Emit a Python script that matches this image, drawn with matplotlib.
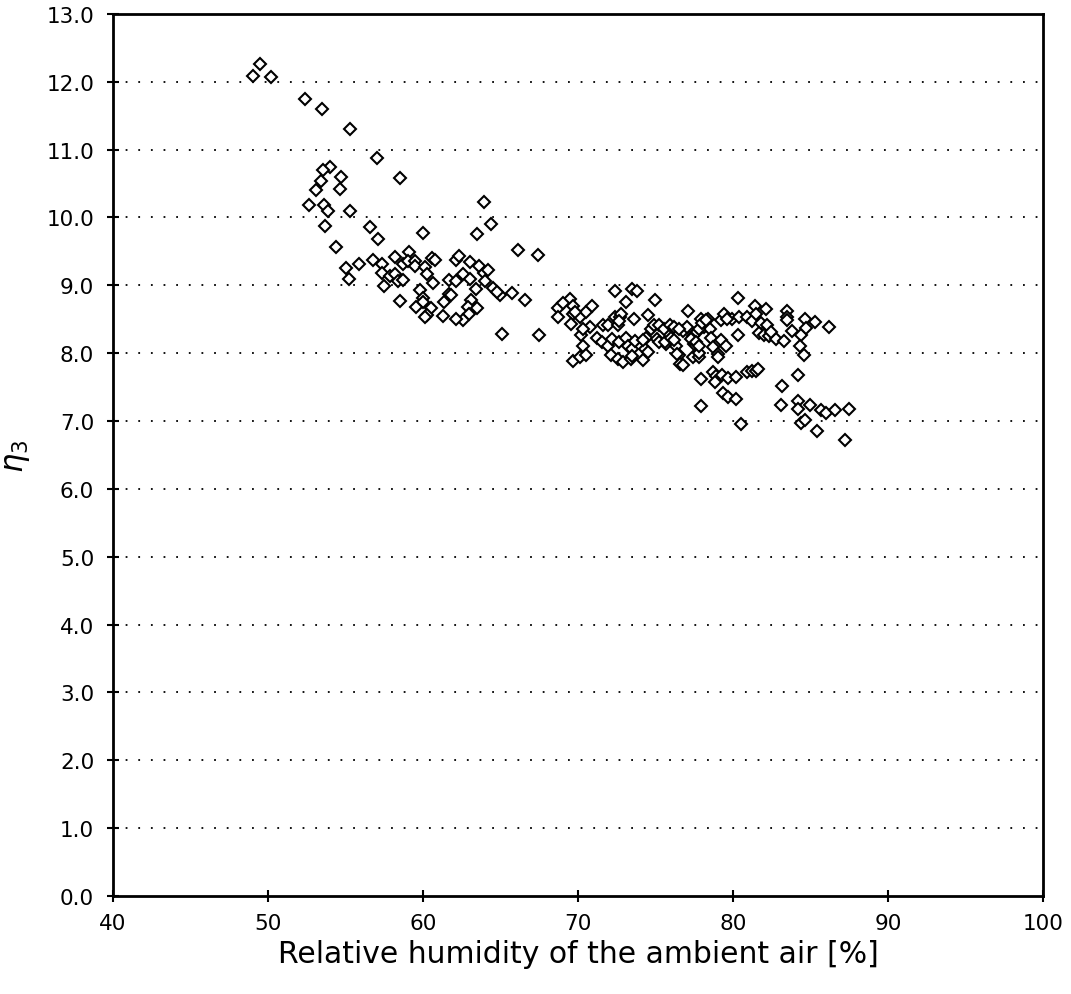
import matplotlib
matplotlib.use("Agg")
import matplotlib.pyplot as plt

# relative humidity [%] and eta_3
humidity = [
    49.0, 49.5, 50.2, 52.4, 53.5, 55.3, 57.05, 58.5, 54.0, 53.55, 54.7, 53.4, 53.1, 54.65,
    52.65, 53.6, 53.9, 55.3, 63.9, 64.4, 53.7, 56.6, 57.1, 60.0, 63.5, 54.4, 66.1, 67.4,
    55.0, 55.2, 55.9, 56.8, 57.35, 57.35, 57.9, 58.2, 58.2, 57.5, 58.4, 58.7, 58.7, 59.1,
    59.0, 59.5, 59.5, 60.1, 60.25, 60.65, 60.6, 60.75, 59.8, 60.0, 60.0, 58.5, 59.55, 60.5,
    60.25, 60.1, 61.3, 61.35, 61.65, 62.1, 61.65, 61.8, 62.1, 62.3, 62.55, 63.05, 63.0, 63.6,
    63.9, 64.2, 64.0, 63.4, 63.1, 62.9, 63.5, 62.95, 62.6, 62.1, 64.5, 64.95, 64.75, 65.75,
    66.6, 65.1, 67.5, 68.7, 68.7,
    72.4, 73.5, 73.8, 73.1, 74.95, 77.1, 80.3, 81.4, 82.1, 83.45, 83.5, 83.5, 80.3, 69.5,
    69.0, 69.65, 69.7, 69.55, 70.1, 70.5, 70.9, 70.8, 70.2, 70.3, 70.3, 69.7, 70.15, 70.5,
    71.2, 71.55, 71.6, 71.95, 72.35, 72.7, 72.55, 72.8, 71.9, 72.1, 72.55, 72.9, 72.2, 72.65,
    73.1, 73.2, 73.5, 73.4, 73.6, 73.7, 74.2, 74.3, 74.5, 74.35, 74.5, 74.7, 74.9, 75.1,
    75.25, 75.55, 75.7, 75.95, 76.2, 76.3, 76.5, 76.6, 76.8, 76.75, 77.05, 77.4, 77.5, 77.4,
    77.8, 77.65, 77.9, 78.1, 78.4, 78.5, 78.6, 78.7, 77.9, 77.9, 78.7, 78.9, 78.85, 79.05,
    79.0, 79.2, 79.55, 79.3, 79.7, 80.2, 79.35, 79.7, 80.2, 80.5, 79.2, 79.4, 79.95, 80.4,
    80.9, 81.25, 81.8, 82.2, 81.7, 82.0, 82.3, 82.75, 83.3, 80.9, 81.25, 81.5, 81.6, 83.15,
    83.1, 83.8, 84.65, 85.3, 84.4, 84.7, 84.3, 84.6, 84.2, 84.2, 84.2, 84.95, 84.4, 84.65,
    85.4, 86.2, 85.7, 86.0, 86.55, 87.45, 87.2,
    72.65, 69.8, 73.5, 74.2, 75.25, 75.6, 76.0, 76.2, 76.5, 76.4, 77.3, 77.8, 78.0, 78.25,
    77.8, 77.6, 77.8, 79.6, 81.45, 82.45,
]
eta3 = [
    12.08, 12.26, 12.07, 11.74, 11.60, 11.31, 10.88, 10.58, 10.75, 10.70, 10.59, 10.54, 10.40, 10.42,
    10.18, 10.19, 10.09, 10.09, 10.23, 9.90, 9.88, 9.86, 9.69, 9.77, 9.75, 9.56, 9.52, 9.45,
    9.26, 9.10, 9.32, 9.37, 9.31, 9.18, 9.14, 9.16, 9.42, 8.99, 9.07, 9.08, 9.32, 9.49,
    9.36, 9.36, 9.29, 9.27, 9.16, 9.04, 9.40, 9.37, 8.93, 8.82, 8.75, 8.77, 8.68, 8.66,
    8.56, 8.53, 8.55, 8.76, 9.08, 9.07, 8.87, 8.86, 9.37, 9.43, 9.17, 9.10, 9.34, 9.29,
    9.18, 9.22, 9.06, 8.95, 8.78, 8.68, 8.67, 8.58, 8.49, 8.51, 8.96, 8.86, 8.90, 8.89,
    8.79, 8.29, 8.27, 8.67, 8.54,
    8.92, 8.95, 8.92, 8.76, 8.79, 8.62, 8.81, 8.69, 8.65, 8.62, 8.53, 8.49, 8.27, 8.80,
    8.74, 8.70, 8.58, 8.43, 8.53, 8.61, 8.70, 8.39, 8.27, 8.36, 8.10, 7.89, 7.95, 7.97,
    8.22, 8.17, 8.41, 8.41, 8.54, 8.54, 8.41, 8.58, 8.11, 7.97, 7.92, 7.87, 8.21, 8.16,
    8.23, 8.11, 8.06, 7.91, 8.50, 8.18, 7.90, 8.06, 8.56, 8.22, 8.02, 8.36, 8.41, 8.21,
    8.41, 8.36, 8.14, 8.42, 8.38, 8.11, 7.97, 7.84, 7.82, 8.33, 8.38, 8.26, 8.14, 7.94,
    7.94, 8.31, 8.50, 8.39, 8.51, 8.36, 8.23, 8.09, 7.62, 7.22, 7.73, 7.67, 7.57, 7.99,
    7.95, 8.19, 8.11, 7.68, 7.63, 7.65, 7.41, 7.35, 7.33, 6.96, 8.49, 8.58, 8.51, 8.53,
    8.53, 8.48, 8.45, 8.41, 8.30, 8.27, 8.25, 8.21, 8.18, 7.72, 7.74, 7.74, 7.76, 7.52,
    7.23, 8.32, 8.50, 8.46, 8.27, 8.37, 8.11, 7.97, 7.68, 7.29, 7.18, 7.24, 6.97, 7.02,
    6.85, 8.38, 7.16, 7.12, 7.16, 7.17, 6.72,
    8.48, 8.60, 7.96, 8.19, 8.16, 8.17, 8.23, 8.20, 8.35, 7.99, 8.21, 8.35, 8.45, 8.49,
    8.01, 8.16, 8.11, 8.51, 8.58, 8.31,
]

x_ticks = [40, 50, 60, 70, 80, 90, 100]
y_ticks = [i * 1.0 for i in range(14)]

fig = plt.figure(figsize=(10.71, 9.95), dpi=100)
ax = fig.add_axes([0.1055, 0.0985, 0.8685, 0.8865])

ax.plot(humidity, eta3, linestyle="none", marker="D", markersize=6.3,
        markerfacecolor="white", markeredgecolor="black", markeredgewidth=1.5)

for y in y_ticks[1:-1]:
    ax.axhline(y, color="black", linewidth=1.3, linestyle=(0, (1, 6)), zorder=0)

ax.set_xlim(40, 100)
ax.set_ylim(0, 13)
ax.set_xticks(x_ticks)
ax.set_yticks(y_ticks)
ax.set_yticklabels([f"{v:.1f}" for v in y_ticks])
ax.tick_params(direction="inout", length=9, width=1.5, labelsize=15.5, colors="black")
ax.tick_params(axis="y", pad=9)
ax.tick_params(axis="x", pad=8)
for s in ax.spines.values():
    s.set_linewidth(2.0)

ax.set_xlabel("Relative humidity of the ambient air [%]", fontsize=21.5, labelpad=4)
ax.set_ylabel(r"$\eta_3$", fontsize=22, labelpad=10)

fig.savefig("out.png", dpi=100)
